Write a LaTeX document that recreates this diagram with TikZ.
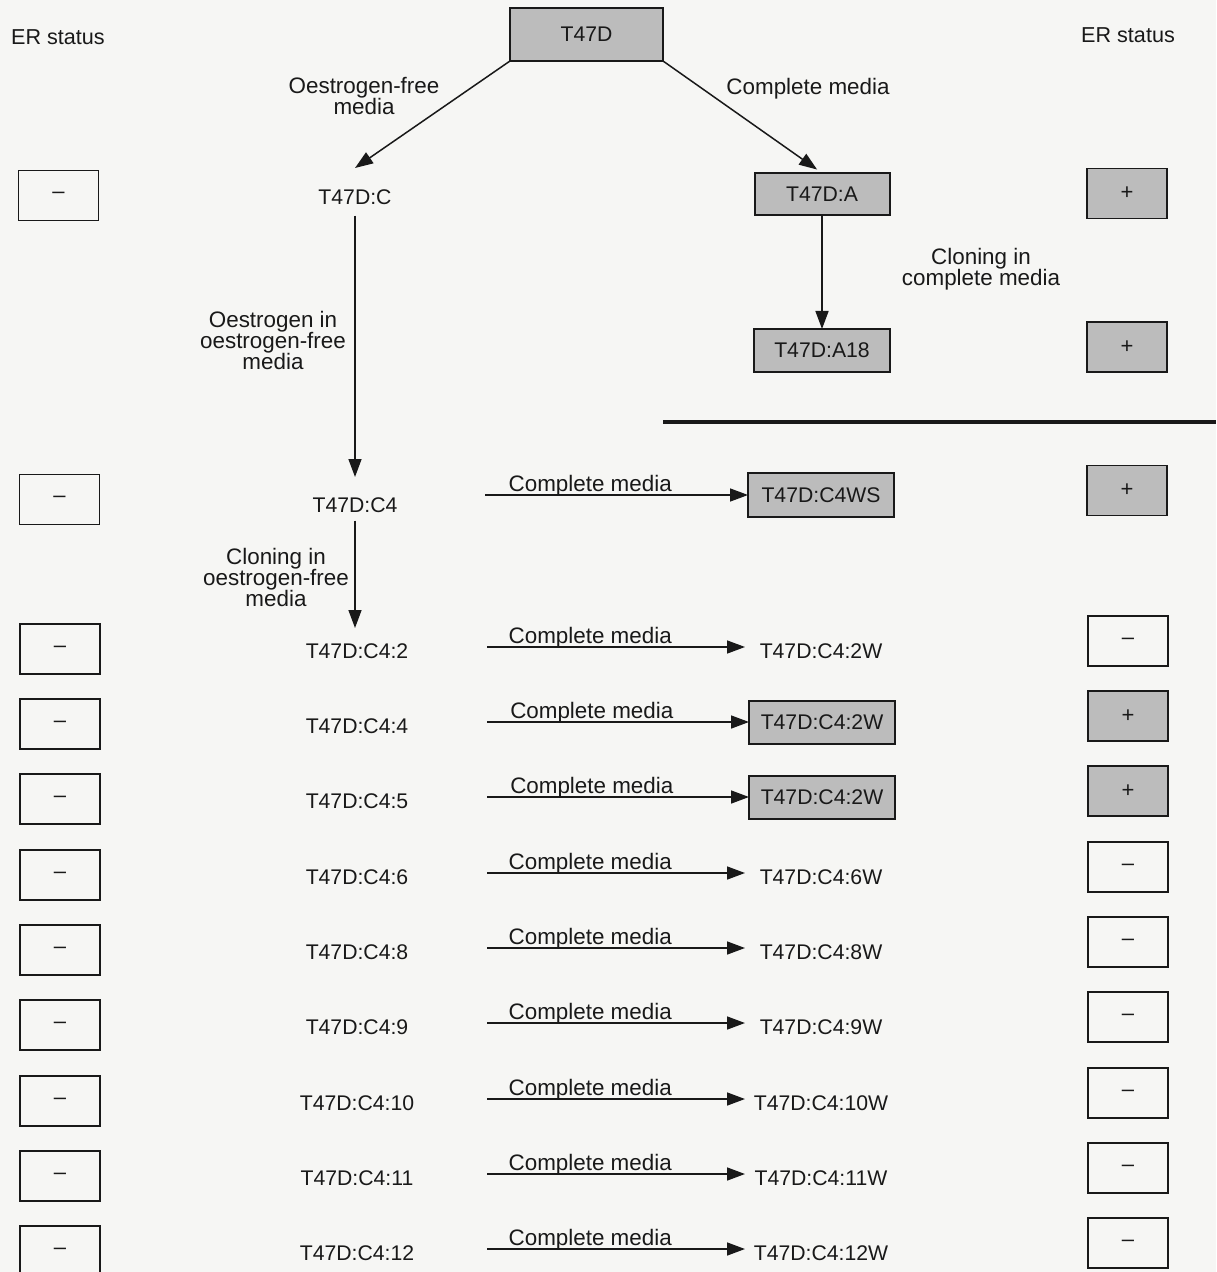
\documentclass[tikz,border=0pt]{standalone}
\usepackage{fontspec}
\setmainfont{Liberation Sans}
\usetikzlibrary{arrows.meta,calc}
\definecolor{boxgray}{RGB}{188,188,188}
\definecolor{paper}{RGB}{246,246,244}
\definecolor{ink}{RGB}{25,25,25}
\begin{document}
\begin{tikzpicture}[x=0.5pt,y=-0.5pt,
  every node/.style={inner sep=0pt, outer sep=0pt, text=ink},
  conn/.style={draw=ink, line width=0.75pt, -{Triangle[length=9pt,width=6.5pt]}},
  cellbox/.style={draw=ink, line width=1pt, fill=boxgray, font=\fontsize{10.6}{12}\selectfont},
  idtext/.style={font=\fontsize{10.6}{12}\selectfont},
  lbl/.style={font=\fontsize{11.2}{10.5}\selectfont, align=center},
  heading/.style={font=\fontsize{10.8}{12}\selectfont},
  erbox/.style={draw=ink, line width=0.9pt, minimum width=40pt, minimum height=25pt, font=\fontsize{11}{12}\selectfont},
  erpos/.style={erbox, fill=boxgray},
  ]
\useasboundingbox (0,0) rectangle (1216,1272);
\fill[paper] (0,0) rectangle (1216,1272);

% headings
\node[heading] (erL) at (58,37) {ER status};
\node[heading] (erR) at (1128,35) {ER status};

% top
\node[cellbox, minimum width=76.5pt, minimum height=26.5pt] (t47d) at (586.5,34.5) {T47D};
\node[idtext] (tC) at (355,197) {T47D:C};
\node[cellbox, minimum width=67.5pt, minimum height=21pt] (tA) at (822,194) {T47D:A};
\node[cellbox, minimum width=68pt, minimum height=21.5pt] (tA18) at (822,350.5) {T47D:A18};

\draw[conn] (t47d.south west) -- ($(tC.center)+(0,-29)$);
\draw[conn, shorten >=3pt] (t47d.south east) -- (tA.north);
\draw[conn] (tA.south) -- (tA18.north);

\node[lbl] (lOF) at (364,96.5) {Oestrogen-free\\media};
\node[lbl] (lCM) at (808,89) {Complete media};
\node[lbl] (lCC) at (981,269) {Cloning in\\complete media};

\node[erbox] (LC) at (58.5,195.5) {\textendash};
\node[erpos] (RA) at (1127,193.5) {+};
\node[erpos] (RA18) at (1127,347) {+};

% C4
\node[idtext, minimum width=130pt] (tC4) at (355,505) {T47D:C4};
\draw[conn] ($(tC.south)+(0,11)$) -- ($(tC.south |- tC4.center)+(0,-28)$);
\node[lbl] (lOE) at (273,340) {Oestrogen in\\oestrogen-free\\media};
\node[cellbox, minimum width=73pt, minimum height=22pt] (tC4WS) at (821,495) {T47D:C4WS};
\draw[conn] ($(tC4.east)+(0,-10)$) -- (tC4WS.west)
  node[lbl, pos=0.4, anchor=base, yshift=1.8pt] {Complete media};
\node[erbox] (LC4) at (59.5,499.5) {\textendash};
\node[erpos] (RC4WS) at (1127,490.5) {+};

\node[lbl] (lCO) at (276,577) {Cloning in\\oestrogen-free\\media};

% rows with plain text targets
\foreach \id/\yy in {2/651, 6/877, 8/952, 9/1027, 10/1103, 11/1178, 12/1253} {
  \node[idtext, minimum width=130pt] (r\id) at (357,\yy) {T47D:C4:\id};
  \node[idtext, minimum width=76pt] (w\id) at (821,\yy) {T47D:C4:\id W};
  \draw[conn] ($(r\id.east)+(0,-4)$) -- ($(w\id.west)+(0,-4)$)
    node[lbl, pos=0.4, anchor=base, yshift=1.8pt] {Complete media};
  \node[erbox] (L\id) at (60,\yy-2) {\textendash};
  \node[erbox] (R\id) at (1128,\yy-10) {\textendash};
}

% rows with boxed targets
\foreach \id/\yy in {4/726, 5/801} {
  \node[idtext, minimum width=130pt] (r\id) at (357,\yy) {T47D:C4:\id};
  \node[cellbox, minimum width=73pt, minimum height=21.5pt] (w\id) at (822,\yy-4) {T47D:C4:2W};
  \draw[conn] ($(r\id.east)+(0,-4)$) -- (w\id.west)
    node[lbl, pos=0.4, anchor=base, yshift=1.8pt] {Complete media};
  \node[erbox] (L\id) at (60,\yy-2) {\textendash};
  \node[erpos] (R\id) at (1128,\yy-10) {+};
}

\draw[conn] ($(tC4.south)+(0,8)$) -- ($(tC4.south |- r2.center)+(0,-23)$);

% rule
\draw[line width=1.6pt, ink] (663,422) -- (1216,422);
\end{tikzpicture}
\end{document}
